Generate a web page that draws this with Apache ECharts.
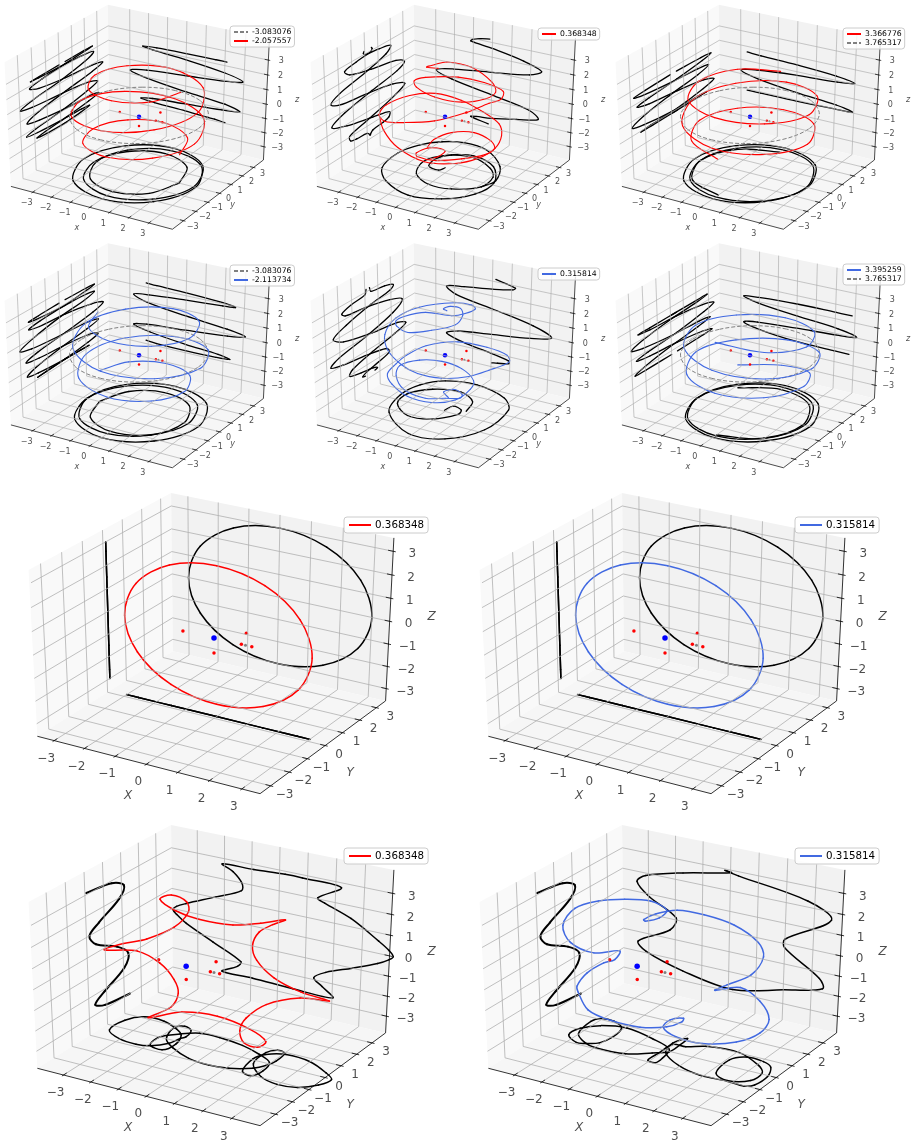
<!DOCTYPE html>
<html>
<head>
<meta charset="utf-8">
<style>html,body{margin:0;padding:0;background:#fff}#chart{width:916px;height:1148px}</style>
<script src="https://cdn.jsdelivr.net/npm/echarts@6/dist/echarts.min.js"></script>
</head>
<body>
<div id="chart"></div>
<script>
// Orbits around equilibria, drawn in ten perspective boxes with their shadows on the box walls.
const RED = '#ff0000', BLUE = '#4169e1', GRAY = '#808080';
const ticks = [-3, -2, -1, 0, 1, 2, 3];

// Wound orbits: longitude (degrees), height and distance from the z axis.
const orbit1Lon = [0,-45,-90,-135,-180,-225,-270,-315,-360,-405,-450,-495,-540,-585,-630,-675,-720,-765,-810,-855,-900,-945,-990,-1035,-1080];
const orbit1Z = [2.27,2.27,2.25,2.2,2.12,2.0,1.82,1.5,1.16,0.95,0.72,0.5,0.25,-0.05,-0.4,-0.65,-0.95,-1.1,-1.27,-1.42,-1.58,-1.68,-1.77,-1.87,-1.95];
const orbit1R = [2.1,2.12,2.15,2.2,2.3,2.5,2.7,2.85,2.95,2.96,2.96,2.97,2.98,2.98,2.98,2.92,2.85,2.72,2.6,2.5,2.4,2.35,2.3,2.2,2.1];

const orbit3Lon = [90,135,180,225,270,315,360,405,450,495,540,585,630,675,720,765,810,855,900,945,990];
const orbit3Z = [1.75,1.7,1.61,1.55,1.47,1.3,1.07,0.9,0.75,0.5,0.25,-0.1,-0.46,-0.7,-0.95,-1.0,-1.07,-1.08,-1.09,-1.2,-1.45];
const orbit3R = [2.5,2.6,2.66,2.7,2.75,2.88,2.99,3,3,3,2.99,2.98,2.96,2.95,2.94,2.88,2.8,2.72,2.66,2.6,2.55];
const wall3Lon = [180,225,270,315,360,405,450,495,540,585,630,675,720,765,810,855,900];
const wall3Z = [1.61,1.55,1.47,1.3,1.07,0.9,0.75,0.5,0.25,-0.1,-0.46,-0.7,-0.95,-1.0,-1.07,-1.08,-1.09];
const wall3R = [2.66,2.7,2.75,2.88,2.99,3,3,3,2.99,2.98,2.96,2.95,2.94,2.88,2.8,2.72,2.66];

const orbit4Lon = [180,225,270,315,360,405,450,495,540,585,630,675,720,765,810,855,900,945,990,1035,1080,1125,1170,1215,1260];
const orbit4Z = [2.29,2.25,2.2,2.08,1.93,1.85,1.7,1.5,1.32,0.95,0.6,0.32,0.07,-0.15,-0.4,-0.6,-0.8,-1.1,-1.4,-1.58,-1.75,-1.82,-1.85,-1.82,-1.76];
const orbit4R = [2.12,2.2,2.3,2.42,2.55,2.67,2.76,2.79,2.79,2.9,3,3.05,3.1,3.1,3.05,2.95,2.79,2.68,2.55,2.45,2.35,2.3,2.25,2.18,2.12];

const orbit6Lon = [-90,-45,0,45,90,135,180,225,270,315,360,405,450,495,540,585,630,675,720,765,810,855];
const orbit6Z = [2.35,1.9,1.44,1.1,1.0,1.05,1.18,1.0,0.65,0.3,0.05,-0.35,-0.65,-0.75,-0.65,-0.85,-1.0,-1.15,-1.26,-1.7,-2.2,-2.3];
const orbit6R = [2.7,2.8,2.85,2.87,2.9,2.87,2.84,2.9,2.97,3.05,3.12,3.12,3.1,2.97,2.84,2.8,2.78,2.77,2.76,2.7,2.65,2.6];
const wall6Lon = [0,45,90,135,180,225,270,315,360,405,450,495,540,585,630,675,720];
const wall6Z = [1.44,1.44,1.43,1.3,1.18,0.9,0.6,0.35,0.05,-0.1,-0.26,-0.45,-0.65,-0.95,-1.2,-1.24,-1.26];
const wall6R = [2.85,2.87,2.9,2.87,2.84,2.9,2.97,3.05,3.12,3.12,3.1,2.97,2.84,2.8,2.78,2.77,2.76];

// Wall traces of the two pole-to-pole orbits.
const wall2Lon = [200,190,180,135,90,45,0,-45,-90,-135,-180,-225,-270,-315,-360,-405,-450,-495,-540,-600];
const wall2Z = [3.2,3.1,2.95,2.8,2.6,2.2,1.75,1.35,0.96,0.6,0.27,-0.15,-0.62,-1.1,-1.6,-1.95,-2.3,-2.42,-2.5,-2.75];
const wall2R = [0.15,0.6,1.01,1.6,2.0,2.3,2.56,2.75,2.62,2.85,2.98,3.0,3.08,2.8,2.47,1.9,1.28,1.15,1.1,0.3];
const wall5Lon = [30,0,-45,-90,-135,-180,-225,-270,-315,-360,-405,-450,-495,-540,-585,-630,-675,-720,-765,-800];
const wall5Z = [3.16,2.85,2.7,2.45,2.2,1.99,1.55,1.1,0.55,0,-0.35,-0.7,-1.0,-1.31,-1.7,-2.05,-2.3,-2.48,-2.65,-2.72];
const wall5R = [0.2,1.19,1.5,1.75,2.1,2.42,2.7,2.9,3.05,3.12,2.9,2.7,2.55,2.42,2.2,1.8,1.3,0.96,0.5,0.15];

// Pole-to-pole orbit, red: upper sweep and lower loop.
const pole2X = [-0.41,-1.1,-1.17,-0.94,0.14,1.52,2.13,2.23,1.5,0.23,-1.03,-1.61,-2.13,-1.23,0.2,1.86,2.42,2.31,1.9,1.01,-0.32,-1.94,-2.81,-3.2,-2.99,-2.18,-1.07,0.2,1.45,2.11,2.51,2.27,1.67,0.59,-0.96,-2.2,-2.81];
const pole2Y = [0.1,0.24,1.02,1.61,1.92,1.39,0.7,-0.27,-1.01,-1.18,-0.67,0.04,1.72,3.0,2.91,1.79,0.66,-0.13,-1.36,-2.39,-2.73,-1.8,-0.97,0.16,1.72,2.59,3.01,2.91,2.17,1.31,0.1,-0.86,-1.81,-2.54,-2.27,-1.53,-0.97];
const pole2Z = [3.08,2.89,2.64,2.57,2.37,2.05,1.93,2.05,2.0,2.05,2.05,1.93,1.12,0.73,0.83,1.32,1.56,1.69,1.61,1.37,1.03,0.09,-0.2,-0.27,-0.4,-0.47,-0.84,-1.25,-1.25,-1.38,-1.43,-1.62,-1.62,-1.43,-1.13,-0.76,-0.2];
const loop2X = [-1.33,-1.37,-0.76,0.31,1.52,2.13,2.23,1.5,0.23,-1.03,-1.27,-1.04,-0.54,-0.29,-0.41,-0.82];
const loop2Y = [0.6,1.2,1.72,1.94,1.39,0.7,-0.27,-1.01,-1.18,-0.67,-0.38,0.28,0.44,0.46,0.1,0.07];
const loop2Z = [-2.92,-2.72,-2.33,-2.11,-1.99,-1.92,-1.74,-1.84,-2.28,-2.72,-2.72,-2.68,-2.65,-2.77,-2.97,-3.26];
const floor2X = [-0.29,-0.41,-1.04,-1.17,-0.76,0.27,1.52,2.09,2.14,1.12,-0.02,-1.07,-1.48,-1.37,-0.78,0.17,1.55,2.42,2.28,1.27,-0.2,-1.85,-2.75,-3.01,-2.61,-1.92,-0.98,0.32,1.8,2.38,2.14];
const floor2Y = [0.46,0.1,0.28,1.02,1.72,1.99,1.39,0.68,-0.4,-1.22,-1.32,-0.69,0.31,1.07,1.75,2.15,1.61,0.25,-1.14,-2.25,-2.66,-1.95,-0.93,0.69,1.94,2.73,3.14,2.98,1.76,0.44,-0.4];

// Pole-to-pole orbit, blue.
const pole5X = [0,-0.13,-0.07,0.41,0.69,0.6,-0.18,-1.26,-2.19,-2.42,-2.52,-1.99,-0.88,0.02,0.78,0.27,-1.23,-2.52,-2.73,-2.34,-1.82,-0.74,0.27,1.36,2.27,2.54,2.11,1.56,0.22,-1.2,-2.27,-2.45,-2.44,-2.28,-1.6,-0.3,0.94,1.76,1.85,1.5,0.47,-0.96,-2.14,-2.51,-2.25,-1.45,-0.44,0.13,0.6,0.59,0.12,-0.22,0.16];
const pole5Y = [0.15,0.08,0.52,0.59,0.33,-0.13,-0.78,-0.98,-0.47,-0.19,0.59,1.5,1.92,1.59,1.21,1.73,2.74,1.81,0.25,-1.17,-1.71,-2.33,-2.57,-2.38,-1.66,-0.48,1.95,2.67,3.15,2.96,1.95,0.62,-0.2,-1.13,-1.78,-2.49,-2.53,-1.94,-0.87,-0.04,0.62,1.24,1.21,0.17,-0.5,-1.08,-0.92,-0.19,0.28,0.49,0.63,0.23,0.03];
const pole5Z = [2.91,3.04,2.99,2.96,2.72,2.3,2.05,1.69,1.56,1.69,1.56,1.52,1.39,1.98,2.72,2.55,1.76,1.56,1.56,1.32,0.71,0.46,0.29,0.22,0.22,0.05,-0.89,-1.0,-1.13,-1.08,-1.13,-1.13,-1.25,-1.38,-1.5,-1.5,-1.47,-1.38,-1.25,-1.25,-1.13,-1.43,-1.7,-1.62,-1.87,-2.23,-2.6,-2.85,-2.97,-2.85,-2.72,-2.77,-2.92];
const floor5X = [-0.09,0.02,0.56,0.67,-0.08,-1.23,-2.32,-2.5,-1.76,-0.46,0.53,0.81];
const floor5Y = [0.1,0.65,0.47,0.03,-0.93,-1.16,-0.34,0.71,1.7,2.07,1.47,0.48];
const rim5X = [1.48,-0.2,-2.14,-2.71,-2.52,-1.75,-0.24,1.6,2.4,2.51,1.48,-0.2,-2.14];
const rim5Y = [-2.3,-2.64,-1.27,0.48,1.81,2.75,3.09,2.48,1.5,-0.7,-2.3,-2.64,-1.27];

// Dashed near-equatorial orbits.
const dashedLon = [-30,0,30,60,90,120,150,180,210,240,270,300,330,360,390];
const dashedZ = [0.15,0.15,0.15,0.15,0.15,0.15,0.15,0.15,0.15,0.15,0.15,0.15,0.15,0.15,0.15];
const dashedR = [3.02,3.02,3.02,3.02,3.02,3.02,3.02,3.02,3.02,3.02,3.02,3.02,3.02,3.02,3.02];

// Great-circle orbit in the x-z plane.
const circleX = [2.6,3,2.6,1.5,0,-1.5,-2.6,-3,-2.6,-1.5,0,1.5,2.6,3,2.6];
const circleY = [0.14,0.14,0.14,0.14,0.14,0.14,0.14,0.14,0.14,0.14,0.14,0.14,0.14,0.14,0.14];
const circleZ = [-1.5,0,1.5,2.6,3,2.6,1.5,0,-1.5,-2.6,-3,-2.6,-1.5,0,1.5];

// Wavy closed orbits; first and last entries overlap so the loop closes smoothly.
const wavyAX = [1.53,1.98,1.77,1.18,0.04,-0.93,-1.88,-2.03,-1.7,-1.48,-1.52,-1.98,-2.76,-3.8,-3.41,-2.7,-1.99,-1.58,-1.41,-2.0,-1.55,-0.43,0.98,1.86,1.96,1.77,1.49,1.37,1.63,2.61,4.1,3.63,2.84,2.12,1.52,1.27,1.53,1.98,1.77];
const wavyAY = [0.88,0.85,-0.25,-0.86,-0.93,-0.67,-0.05,0.82,1.17,0.92,0.16,-0.67,-0.78,-0.3,0.97,1.16,0.85,0.45,-0.25,-0.65,0.6,0.9,0.51,0,-0.67,-1.16,-0.94,-0.37,0.39,0.74,-0.13,-1.03,-1.27,-1.06,-0.29,0.52,0.88,0.85,-0.25];
const wavyAZ = [2.3,2.67,3.0,3.05,3.01,3.0,2.96,2.7,2.3,2.0,1.64,1.36,0.96,0.1,-0.5,-0.98,-1.4,-1.75,-2.0,-2.51,-2.77,-2.78,-2.74,-2.78,-2.65,-2.21,-1.83,-1.58,-1.25,-0.81,0,0.76,1.31,1.8,1.9,2.05,2.3,2.67,3.0];

const wavyBX = [-2.55,-2.12,-2.21,-2.9,-3.35,-3.3,-2.77,-1.97,-0.85,0,0.17,-0.02,-0.16,-0.13,0.13,0.86,1.9,3.0,3.41,3.38,2.76,2.17,2.27,2.95,3.4,3.5,3.23,2.0,0.89,0.05,-0.19,0.03,0.2,0.02,-0.53,-1.4,-2.32,-3.14,-3.18,-3.28,-2.97,-2.55,-2.12,-2.21];
const wavyBY = [1.15,0.78,-0.55,-0.79,-0.51,0.1,0.62,0.86,0.55,0.1,-0.6,-1.08,-0.95,-0.29,0.49,0.85,0.88,0.4,0,-0.65,-1.0,-0.7,0.67,0.69,0.48,-0.26,-1.2,-1.12,-0.82,-0.19,0.62,1.06,0.68,0.07,-0.61,-0.94,-0.78,-0.08,-0.07,0.67,1.16,1.15,0.78,-0.55];
const wavyBZ = [-0.75,0,0.56,0.98,1.52,2.05,2.3,2.5,2.88,2.92,2.95,2.98,2.95,2.9,2.76,2.58,2.38,2.14,1.8,1.3,0.81,0.2,-0.37,-0.83,-1.45,-1.67,-1.66,-2.19,-2.4,-2.57,-2.73,-2.82,-2.73,-2.7,-2.52,-2.28,-2.15,-1.9,-1.62,-1.39,-1.05,-0.75,0,0.56];

// Floor traces of the wavy orbits.
const floorAX = [2.01,2.07,1.97,1.72,1.09,0.43,-0.36,-1.22,-1.75,-2.0,-1.77,-1.42,-1.3,-1.39,-1.49,-1.89,-2.35,-3.01,-3.67,-3.67,-3.27,-2.55,-1.87,-1.5,-1.28,-1.41,-1.94,-2.01,-1.58,-1.08,-0.37,0.57,1.38,1.95,2.09,1.96,1.56,1.37,1.55,2.09,3.0,3.83,4.21,4.06,3.6,2.95,2.26,1.57,1.48,1.7,2.01,2.07,1.97];
const floorAY = [0.92,0.29,-0.16,-0.53,-0.91,-1.02,-0.91,-0.48,-0.01,0.81,1.11,0.93,0.43,0.21,-0.26,-0.71,-0.84,-0.76,-0.35,0.55,1.1,1.12,0.79,0.47,-0.2,-0.79,-0.65,0,0.52,0.89,0.93,0.77,0.45,0.09,-0.56,-1.03,-0.88,0.05,0.55,0.87,0.78,0.31,-0.03,-0.57,-1.04,-1.17,-0.94,-0.24,0.67,1.02,0.92,0.29,-0.16];
const floorBX = [-2.08,-1.95,-2.07,-2.41,-2.71,-3.24,-3.2,-2.76,-1.94,-0.8,0.07,0.24,0.23,-0.07,-0.06,-0.03,0.42,0.94,2.08,3.07,3.44,3.41,2.79,2.23,2.09,2.43,3.06,3.46,3.71,3.67,3.44,2.81,1.86,0.97,0.12,-0.08,0.14,0.19,0.17,-0.24,-0.92,-1.97,-2.49,-3.03,-3.21,-3.05,-2.58,-2.08,-1.95,-2.07];
const floorBY = [0.76,0.04,-0.56,-0.81,-0.9,-0.52,0.09,0.59,0.85,0.56,0.14,-0.55,-0.95,-0.9,-0.26,0.5,0.56,0.91,1.03,0.5,0.08,-0.58,-0.95,-0.65,0.4,0.85,0.82,0.57,-0.07,-0.8,-1.03,-0.99,-1.03,-0.76,-0.15,0.59,1.13,0.54,-0.02,-0.37,-0.84,-0.93,-0.76,-0.28,0.72,1.07,1.1,0.76,0.04,-0.56];

// Back-wall traces of the wavy orbits.
const backAX = [-0.93,-2.08,-1.68,-1.35,-1.37,-2.31,-3.43,-3.8,-3.93,-3.8,-3.43,-2.43,-1.37,-1.5,-2.08,-0.93,0.57,2.03,1.63,1.32,1.75,2.69,3.57,3.95,4.1,3.95,3.57,2.57,1.63,1.38,2.2,0.82,0.2,-0.93,-2.08,-1.68];
const backAZ = [2.77,2.73,2.46,1.98,1.62,1.05,0.4,0.15,-0.05,-0.25,-0.6,-1.24,-1.93,-2.2,-2.63,-2.63,-2.7,-2.7,-2.25,-1.9,-1.5,-1.0,-0.5,-0.2,0,0.25,0.6,1.4,1.87,2.05,2.77,2.85,2.85,2.77,2.73,2.46];
const backBX = [0.28,-0.2,0.03,-1.72,-3.1,-3.43,-2.97,-1.97,-2.2,-3.4,-3.1,-1.72,0.15,2.0,3.4,3.27,2.0,2.0,3.6,2.75,0.28,-0.2,0.03];
const backBZ = [2.8,2.93,2.88,2.39,1.88,1.5,0.87,0.1,-0.57,-1.48,-1.93,-2.5,-2.87,-2.3,-1.8,-1.33,-0.2,0.22,1.62,2.29,2.8,2.93,2.88];

// Left-wall trace shared by the wavy orbits.
const leftWavyY = [-0.92,0.47,1.14,0.85,-0.3,-0.84,-0.5,0.66,1.29,1.04,-0.11,-0.65,-0.11,1.33];
const leftWavyZ = [3.08,2.88,2.47,1.95,1.37,0.98,0.42,-0.29,-0.92,-1.54,-2.12,-2.5,-2.8,-3.0];

// Equilibrium points: five red, one grey, one blue.
const redPointsX = [-1,0,0,0.87,1.2];
const redPointsY = [0,1.76,0,0,0];
const redPointsZ = [0,-0.7,-0.65,0,0];
const greyPoint = [1,0,0];
const bluePoint = [0,0,0];

// Axis ranges of the three box families.
const rangeSmall = {x:[-4.17,4.17], y:[-3.9,3.9], z:[-3.95,4.45]};
const rangeCircle = {x:[-3.56,3.56], y:[-3.56,3.56], z:[-3.56,3.56]};
const rangeWavy = {x:[-3.97,3.97], y:[-3.9,3.9], z:[-3.85,4.1]};

const view = {elev:30, azim:-59, halfZ:0.48, dist:10};
const vc = Math.cos(view.elev*Math.PI/180), vs = Math.sin(view.elev*Math.PI/180);
const ac = Math.cos(view.azim*Math.PI/180), as = Math.sin(view.azim*Math.PI/180);

// Perspective camera: data coordinates to the flat plane measured by the hidden axes.
function project(p, r) {
  const dx = (p[0]-(r.x[0]+r.x[1])/2)/(r.x[1]-r.x[0]);
  const dy = (p[1]-(r.y[0]+r.y[1])/2)/(r.y[1]-r.y[0]);
  const dz = (p[2]-(r.z[0]+r.z[1])/2)/(r.z[1]-r.z[0])*2*view.halfZ;
  const X = -as*dx + ac*dy;
  const Y = -vs*ac*dx - vs*as*dy + vc*dz;
  const D = view.dist - (vc*ac*dx + vc*as*dy + vs*dz);
  return [X/D, Y/D];
}

const wound = (lon, z, r) => lon.map((l,i) => [r[i]*Math.cos(l*Math.PI/180), r[i]*Math.sin(l*Math.PI/180), z[i]]);
const traced = (x, y, z) => x.map((v,i) => [v, y[i], z[i]]);

const panels = [
  {ox:139, oy:113, sx:1884, sy:1478, r:rangeSmall, small:true, color:RED, name:'-2.057557', orbit:wound(orbit1Lon,orbit1Z,orbit1R), dashed:'-3.083076', legend:{left:230,top:26}, names:['-3.083076','-2.057557'], mirror:0.23},
  {ox:445, oy:113, sx:1884, sy:1478, r:rangeSmall, small:true, color:RED, name:'0.368348', orbit:traced(pole2X,pole2Y,pole2Z), extra:traced(loop2X,loop2Y,loop2Z), floor:[floor2X,floor2Y], wall:wound(wall2Lon,wall2Z,wall2R), legend:{left:538,top:28}, names:['0.368348'], mirror:0.23},
  {ox:750, oy:113, sx:1884, sy:1478, r:rangeSmall, small:true, color:RED, name:'3.366776', orbit:wound(orbit3Lon,orbit3Z,orbit3R), wall:wound(wall3Lon,wall3Z,wall3R), dashed:'3.765317', legend:{left:843,top:28}, names:['3.366776','3.765317'], mirror:0.23},
  {ox:139, oy:351.5, sx:1884, sy:1478, r:rangeSmall, small:true, color:BLUE, name:'-2.113734', orbit:wound(orbit4Lon,orbit4Z,orbit4R), dashed:'-3.083076', legend:{left:230,top:265}, names:['-3.083076','-2.113734'], mirror:0.23},
  {ox:445, oy:351.5, sx:1884, sy:1478, r:rangeSmall, small:true, color:BLUE, name:'0.315814', orbit:traced(pole5X,pole5Y,pole5Z), floor:[floor5X,floor5Y], rim:[rim5X,rim5Y], wall:wound(wall5Lon,wall5Z,wall5R), legend:{left:538,top:268}, names:['0.315814'], mirror:0.23},
  {ox:750, oy:351.5, sx:1884, sy:1478, r:rangeSmall, small:true, color:BLUE, name:'3.395259', orbit:wound(orbit6Lon,orbit6Z,orbit6R), wall:wound(wall6Lon,wall6Z,wall6R), dashed:'3.765317', legend:{left:843,top:264}, names:['3.395259','3.765317'], mirror:0.23},
  {ox:214, oy:638, sx:2598, sy:1979, r:rangeCircle, color:RED, name:'0.368348', orbit:traced(circleX,circleY,circleZ), closed:true, legend:{left:344,top:517}, names:['0.368348']},
  {ox:665, oy:638, sx:2598, sy:1979, r:rangeCircle, color:BLUE, name:'0.315814', orbit:traced(circleX,circleY,circleZ), closed:true, legend:{left:795,top:517}, names:['0.315814']},
  {ox:214, oy:970, sx:2598, sy:1979, r:rangeWavy, color:RED, name:'0.368348', orbit:traced(wavyAX,wavyAY,wavyAZ), closed:true, shift:-1, floor:[floorAX,floorAY], back:[backAX,backAZ], left:[leftWavyY,leftWavyZ], legend:{left:344,top:848}, names:['0.368348']},
  {ox:665, oy:970, sx:2598, sy:1979, r:rangeWavy, color:BLUE, name:'0.315814', orbit:traced(wavyBX,wavyBY,wavyBZ), closed:true, shift:-1, floor:[floorBX,floorBY], back:[backBX,backBZ], left:[leftWavyY,leftWavyZ], legend:{left:795,top:848}, names:['0.315814']}
];

const series = [], grids = [], xAxes = [], yAxes = [], legends = [];
const HALF = 0.07;

function lineSeries(i, pts, r, opts) {
  series.push(Object.assign({
    type:'line', xAxisIndex:i, yAxisIndex:i, symbol:'none', silent:true, animation:false, clip:false,
    data: pts.map(p => p ? project(p, r) : ['-','-'])
  }, opts));
}

// Smooth trace: each datum draws one cubic segment to the next datum, with tangents
// taken from its neighbours in screen space (chord-length weighted). A closed trace
// repeats its neighbours at both ends, and those outer segments are left undrawn.
function curveSeries(i, pts, r, stroke, width, dash, closed) {
  const data = pts.map(p => project(p, r));
  series.push({
    type:'custom', xAxisIndex:i, yAxisIndex:i, silent:true, animation:false, clip:false,
    encode:{x:0, y:1}, data,
    renderItem: (params, api) => {
      const k = params.dataIndex, n = data.length;
      if (k >= n-1 || (closed && (k === 0 || k === n-2))) return null;
      const c = j => api.coord(data[Math.max(0, Math.min(n-1, j))]);
      const p0 = c(k-1), p1 = c(k), p2 = c(k+1), p3 = c(k+2);
      const d01 = Math.hypot(p1[0]-p0[0], p1[1]-p0[1]) || 1e-6;
      const d12 = Math.hypot(p2[0]-p1[0], p2[1]-p1[1]) || 1e-6;
      const d23 = Math.hypot(p3[0]-p2[0], p3[1]-p2[1]) || 1e-6;
      const t1 = d12/(d01+d12)/3, t2 = d12/(d12+d23)/3;
      return {type:'bezierCurve', shape:{
        x1:p1[0], y1:p1[1], x2:p2[0], y2:p2[1],
        cpx1:p1[0]+(p2[0]-p0[0])*t1, cpy1:p1[1]+(p2[1]-p0[1])*t1,
        cpx2:p2[0]-(p3[0]-p1[0])*t2, cpy2:p2[1]-(p3[1]-p1[1])*t2
      }, style:{stroke, lineWidth:width, fill:null, lineDash:dash||null, lineCap:dash?'butt':'round'}};
    }
  });
}

const legendKeys = new Set();
function legendKey(i, name, style) {
  if (legendKeys.has(name)) return;
  legendKeys.add(name);
  series.push({type:'line', name, xAxisIndex:i, yAxisIndex:i, symbol:'none', silent:true, animation:false, data:[], lineStyle:style, itemStyle:{color:style.color}});
}

panels.forEach((P, i) => {
  const r = P.r, small = !!P.small;
  grids.push({left:P.ox-HALF*P.sx, top:P.oy-HALF*P.sy, width:2*HALF*P.sx, height:2*HALF*P.sy});
  xAxes.push({type:'value', gridIndex:i, min:-HALF, max:HALF, show:false});
  yAxes.push({type:'value', gridIndex:i, min:-HALF, max:HALF, show:false});

  const x0=r.x[0], x1=r.x[1], y0=r.y[0], y1=r.y[1], z0=r.z[0], z1=r.z[1];

  // Box walls.
  const walls = [
    {c:'#f9f9f9', q:[[x0,y0,z0],[x0,y1,z0],[x0,y1,z1],[x0,y0,z1]]},
    {c:'#f2f2f2', q:[[x0,y1,z0],[x1,y1,z0],[x1,y1,z1],[x0,y1,z1]]},
    {c:'#f6f6f6', q:[[x0,y0,z0],[x1,y0,z0],[x1,y1,z0],[x0,y1,z0]]}
  ];
  series.push({
    type:'custom', xAxisIndex:i, yAxisIndex:i, silent:true, animation:false, clip:false,
    encode:{x:0, y:1},
    data: walls.map((w,k) => [...project(w.q[0], r), k]),
    renderItem: (params, api) => {
      const w = walls[params.dataIndex];
      return {type:'polygon', shape:{points:w.q.map(q => api.coord(project(q, r)))}, style:{fill:w.c, stroke:'none'}};
    }
  });

  // Grid lines on the walls.
  const gridPts = [];
  ticks.forEach(t => {
    gridPts.push([t,y0,z0],[t,y1,z0],[t,y1,z1],null);
    gridPts.push([x1,t,z0],[x0,t,z0],[x0,t,z1],null);
    gridPts.push([x0,y0,t],[x0,y1,t],[x1,y1,t],null);
  });
  lineSeries(i, gridPts, r, {lineStyle:{color:'#b0b0b0', width:small?0.7:0.8}});

  // Axis lines and tick marks.
  const out = (x1-x0)*0.011, inn = (x1-x0)*0.022;
  const axisPts = [[x0,y0,z0],[x1,y0,z0],null,[x1,y0,z0],[x1,y1,z0],null,[x1,y1,z0],[x1,y1,z1],null];
  ticks.forEach(t => {
    axisPts.push([t,y0-out,z0],[t,y0+inn,z0],null);
    axisPts.push([x1+out,t,z0],[x1-inn,t,z0],null);
    axisPts.push([x1+out,y1,t],[x1-inn,y1,t],null);
  });
  lineSeries(i, axisPts, r, {lineStyle:{color:'#000', width:small?0.7:0.8}});

  // Shadows of the orbit on the three walls.
  const bw = small ? 1.3 : 1.5;
  const wallOrbit = P.wall || P.orbit;
  const floorPts = P.floor ? P.floor[0].map((v,k) => [v,P.floor[1][k],z0]) : P.orbit.map(p => [p[0],p[1],z0]);
  curveSeries(i, floorPts, r, '#000', bw, null, P.closed);
  if (P.rim) curveSeries(i, P.rim[0].map((v,k) => [v,P.rim[1][k],z0]), r, '#000', bw, null, true);
  const backPts = P.back ? P.back[0].map((v,k) => [v,y1,P.back[1][k]]) : wallOrbit.map(p => [p[0],y1,p[2]]);
  curveSeries(i, backPts, r, '#000', bw, null, P.closed);
  const leftPts = P.left ? P.left[0].map((v,k) => [x0,v,P.left[1][k]]) : wallOrbit.map(p => [x0,p[1],p[2]]);
  curveSeries(i, leftPts, r, '#000', P.left ? 2 : bw, null, P.closed && !P.left);
  if (P.mirror !== undefined) {
    curveSeries(i, wallOrbit.map(p => [x0,2*P.mirror-p[1],p[2]]), r, '#000', bw);
  }

  // Equilibria.
  const shift = P.shift || 0, redSize = small ? 2.5 : 3.5, blueSize = small ? 4.5 : 5.5;
  series.push({type:'scatter', xAxisIndex:i, yAxisIndex:i, silent:true, animation:false, clip:false, symbolSize:redSize, itemStyle:{color:'#ff0000', opacity:1},
    data:redPointsX.map((v,k) => project([v+shift,redPointsY[k],redPointsZ[k]], r))});
  series.push({type:'scatter', xAxisIndex:i, yAxisIndex:i, silent:true, animation:false, clip:false, symbolSize:redSize-0.5, itemStyle:{color:'#808080', opacity:1},
    data:[project([greyPoint[0]+shift,greyPoint[1],greyPoint[2]], r)]});
  series.push({type:'scatter', xAxisIndex:i, yAxisIndex:i, silent:true, animation:false, clip:false, symbolSize:blueSize, itemStyle:{color:'#0000ff', opacity:1},
    data:[project([bluePoint[0]+shift,bluePoint[1],bluePoint[2]], r)]});

  // Orbits.
  if (P.dashed) {
    curveSeries(i, wound(dashedLon,dashedZ,dashedR), r, GRAY, 1, [4,2], true);
    legendKey(i, P.dashed, {color:GRAY, width:1, type:[4,2]});
  }
  curveSeries(i, P.orbit, r, P.color, small?1.1:1.5, null, P.closed);
  if (P.extra) curveSeries(i, P.extra, r, P.color, small?1.1:1.5);
  legendKey(i, P.name, {color:P.color, width:small?1:1.5});

  // Tick labels and axis titles.
  const fs = small ? 8 : 12;
  const off = small ? {x:[-6,11], y:[9,6], z:[13,1]} : {x:[-8,18], y:[14,9], z:[19,3]};
  const labelled = (pt, text, offset, size, style) => series.push({
    type:'scatter', xAxisIndex:i, yAxisIndex:i, silent:true, animation:false, clip:false, symbolSize:0,
    data:[project(pt, r)],
    label:{show:true, position:'inside', formatter:text, offset, fontSize:size, fontFamily:'DejaVu Sans', fontStyle:style||'normal', color:'#222'}
  });
  ticks.forEach(t => {
    const s = String(t).replace('-', '\u2212');
    labelled([t,y0,z0], s, off.x, fs);
    labelled([x1,t,z0], s, off.y, fs);
    labelled([x1,y1,t], s, off.z, fs);
  });
  const names = small ? ['x','y','z'] : ['X','Y','Z'];
  const t2 = small ? {x:[-13,21], y:[13,12], z:[31,-4]} : {x:[-18,32], y:[25,27], z:[42,-4]};
  labelled([0,y0,z0], names[0], t2.x, small?8:12, 'italic');
  labelled([x1,0,z0], names[1], t2.y, small?8:12, 'italic');
  labelled([x1,y1,0], names[2], t2.z, small?8:12, 'italic');

  legends.push({
    left:P.legend.left, top:P.legend.top, orient:'vertical', selectedMode:false,
    data:P.names, itemWidth:small?14:22, itemHeight:small?6:8, itemGap:small?1:2,
    padding:small?[2,3]:[3,4], backgroundColor:'rgba(255,255,255,0.8)', borderColor:'#cccccc', borderWidth:1, borderRadius:3,
    itemStyle:{opacity:0},
    textStyle:{fontFamily:'DejaVu Sans', fontSize:small?7.7:10.3, color:'#000', padding:[0,0,0,-1]}
  });
});

const chart = echarts.init(document.getElementById('chart'), null, {renderer:'canvas', width:916, height:1148});
chart.setOption({animation:false, backgroundColor:'#fff', grid:grids, xAxis:xAxes, yAxis:yAxes, legend:legends, series});
</script>
</body>
</html>
